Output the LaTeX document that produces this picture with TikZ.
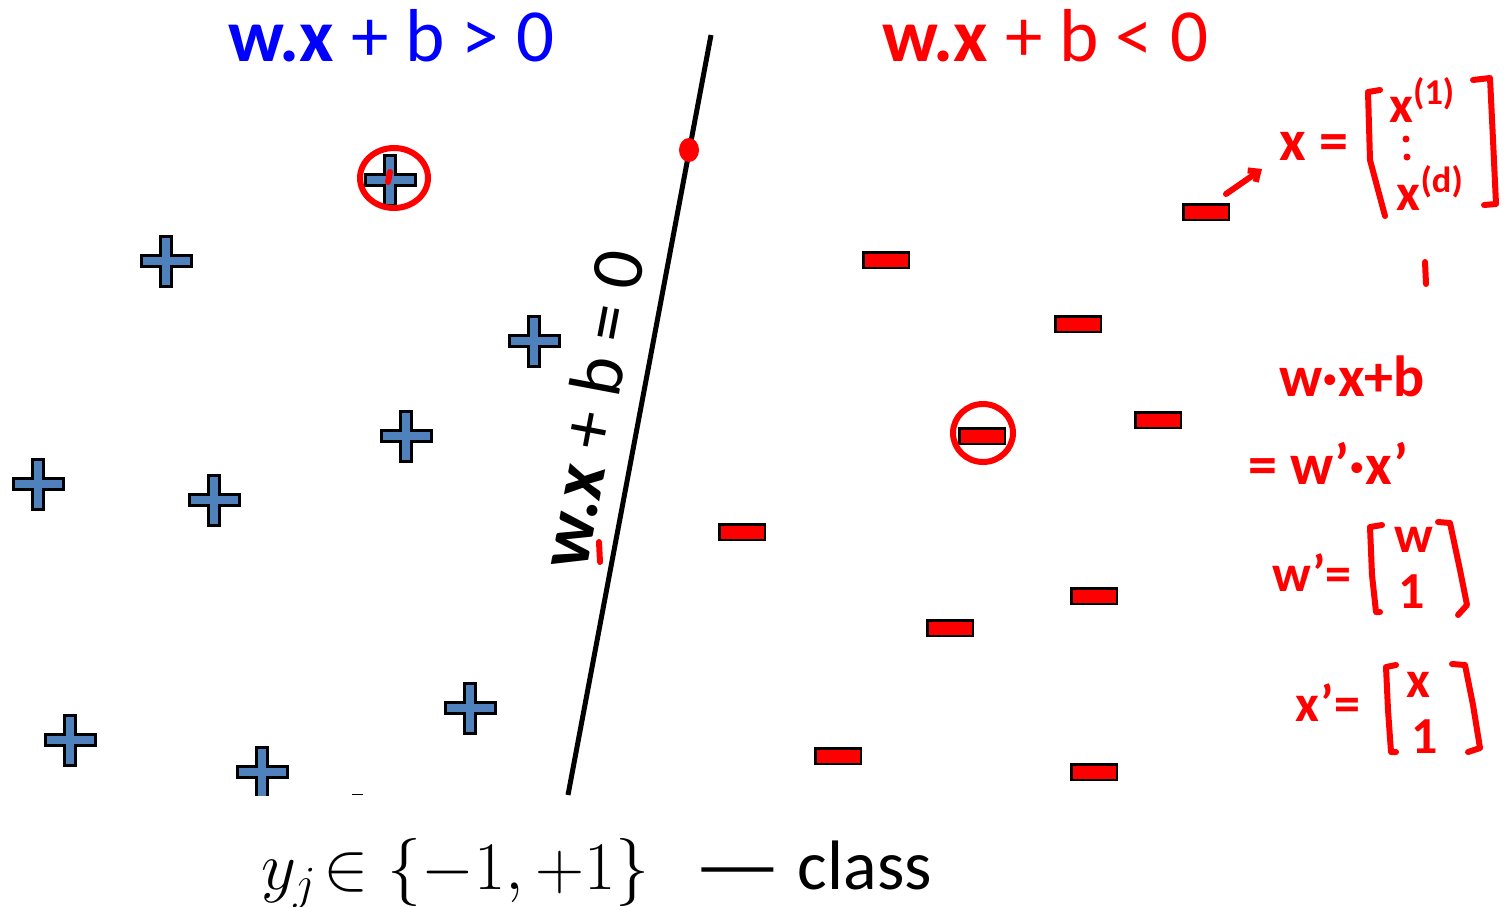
\documentclass[tikz,border=0pt]{standalone}
\usepackage{fix-cm}
\usepackage{fontspec}
\setmainfont{Carlito}
\usetikzlibrary{arrows.meta}
\definecolor{plusblue}{HTML}{4F81BD}
\definecolor{pured}{HTML}{FF0000}
\definecolor{pureblue}{HTML}{0000FF}
\tikzset{
  plussign/.pic={\draw[line width=3pt, fill=plusblue, line join=miter]
    (-25,-5.5) -- (-5.5,-5.5) -- (-5.5,-25) -- (5.5,-25) -- (5.5,-5.5) -- (25,-5.5) --
    (25,5.5) -- (5.5,5.5) -- (5.5,25) -- (-5.5,25) -- (-5.5,5.5) -- (-25,5.5) -- cycle;},
  minusbox/.style={draw=black, line width=2.5pt, fill=pured, minimum width=45.5pt,
    minimum height=15.5pt, inner sep=0pt, outer sep=0pt},
  ink/.style={draw=pured, line width=6pt, line cap=round, line join=round},
  hand/.style={text=pured, font=\fontsize{52}{54}\selectfont\bfseries, inner sep=0pt},
  titletext/.style={font=\fontsize{75}{78}\selectfont, inner sep=0pt, anchor=base west}
}
\begin{document}
\begin{tikzpicture}[x=1pt,y=-1pt]
\useasboundingbox (0,0) rectangle (1509,907);
% titles
\node[titletext, text=pureblue] (tpos) at (228,62) {\textbf{w.x} + b > 0};
\node[titletext, text=pured] (tneg) at (882,62) {\textbf{w.x} + b < 0};
% separating line
\coordinate (lt) at (711,35);
\coordinate (lb) at (568,795);
\draw[line width=5pt] (lb) -- (lt);
\node[font=\fontsize{74}{76}\selectfont, inner sep=0pt, rotate=79.3] (lab) at (591,409) {\textbf{w.x} + b = 0};
% pluses
\begin{scope}
\clip (0,0) rectangle (1509,795.5);
\pic (p1) at (390,180) {plussign};
\pic (p2) at (166,261) {plussign};
\pic (p3) at (534,341) {plussign};
\pic (p4) at (406,436) {plussign};
\pic (p5) at (38,484) {plussign};
\pic (p6) at (214,500) {plussign};
\pic (p7) at (470,708) {plussign};
\pic (p8) at (70,740) {plussign};
\pic (p9) at (262,772) {plussign};
\end{scope}
\draw[line width=1.5pt] (352,794.5) -- (363,794.5);
% minuses
\node[minusbox] (m1) at (1206,212) {};
\node[minusbox] (m2) at (886,260) {};
\node[minusbox] (m3) at (1078,324) {};
\node[minusbox] (m4) at (1158,420) {};
\node[minusbox] (m5) at (982,436) {};
\node[minusbox] (m6) at (742,532) {};
\node[minusbox] (m7) at (1094,596) {};
\node[minusbox] (m8) at (950,628) {};
\node[minusbox] (m9) at (838,756) {};
\node[minusbox] (m10) at (1094,772) {};
% red marks
\fill[pured] (689,150) ellipse [x radius=10, y radius=12];
\draw[ink] (394,178) ellipse [x radius=34, y radius=30];
\draw[ink] (983,433) ellipse [x radius=30, y radius=29];
\draw[ink] (390,172) -- (388,182);
\draw[ink] (599,542) -- (600,562);
\draw[ink] (1425,262) -- (1426,284);
% x vector annotation
\coordinate (arrs) at (1226,194);
\node[hand, font=\fontsize{58}{60}\selectfont\bfseries] (xeq) at (1314,146) {x =};
\draw[ink, -{Straight Barb[length=8pt,width=14pt]}] (arrs) -- (1262,169);
\draw[ink] (1380,90) -- (1368,92) -- (1370,160) -- (1385,216);
\draw[ink] (1473,80) -- (1490,78) -- (1493,140) -- (1496,204) -- (1484,205);
\node[hand] (x1) at (1422,100) {x\textsuperscript{(1)}};
\fill[pured] (1406,139) circle (3.5) (1407,157) circle (3.5);
\node[hand] (xd) at (1430,188) {x\textsuperscript{(d)}};
% w.x+b = w'.x'
\node[hand, font=\fontsize{58}{60}\selectfont\bfseries] (wxb) at (1352,376) {w·x+b};
\node[hand, font=\fontsize{58}{60}\selectfont\bfseries] (wpxp) at (1328,463) {= w'·x'};
% w' vector
\node[hand] (wp) at (1312,573) {w'=};
\draw[ink] (1382,525) -- (1370,527) -- (1372,575) -- (1376,612) -- (1380,612);
\draw[ink] (1438,522) -- (1450,523) -- (1460,570) -- (1467,605) -- (1458,615);
\node[hand] (ww) at (1414,540) {w};
\node[hand] (w1) at (1412,592) {1};
% x' vector
\node[hand] (xp) at (1328,703) {x'=};
\draw[ink] (1396,665) -- (1386,667) -- (1388,710) -- (1391,752) -- (1396,752);
\draw[ink] (1452,664) -- (1465,665) -- (1473,705) -- (1480,748) -- (1468,752);
\node[hand] (xx) at (1418,685) {x};
\node[hand] (x1b) at (1425,737) {1};
% bottom caption
\node[anchor=base west, inner sep=0pt, font=\fontsize{68}{72}\selectfont] (cls) at (261,889) {$y_j\!\in\{-1,+1\}$};
\node[anchor=base west, inner sep=0pt, font=\fontsize{70}{72}\selectfont] (clw) at (693,889) {\scalebox{1.4}[1]{—}\hspace{16pt}class};
\end{tikzpicture}
\end{document}
